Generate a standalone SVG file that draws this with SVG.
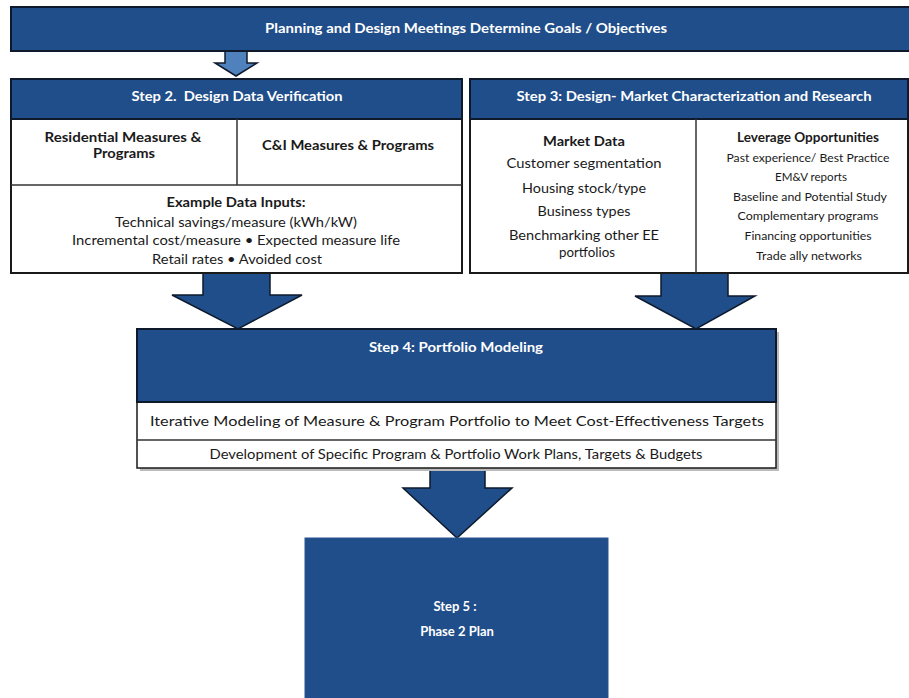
<svg xmlns="http://www.w3.org/2000/svg" width="909" height="698" viewBox="0 0 909 698">
<style>
.dark{fill:#1F4E8A;stroke:#0E1A2C;stroke-width:2}
.white{fill:#FFFFFF;stroke:#1A1A1A;stroke-width:2}
.line{stroke:#333;stroke-width:1.5;fill:none}
.arrow{fill:#1F4E8A;stroke:#0E1A2C;stroke-width:1.5;stroke-linejoin:miter}
.arrowL{fill:#4F81BD;stroke:#0E1A2C;stroke-width:1.5}
text{font-family:Lato,"Liberation Sans",Arial,sans-serif;text-anchor:middle}
.wh{fill:#FFFFFF;font-weight:bold;font-size:13px}
.bk{fill:#1A1A1A;font-size:14px}
.bkb{fill:#1A1A1A;font-size:14px;font-weight:bold}
.sm{fill:#1A1A1A;font-size:12px}
</style>
<rect width="909" height="698" fill="#FFFFFF"/>
<g id="connectors">
<polygon class="arrowL" points="225,51 247,51 247,63 257,63 236,76 215,63 225,63"/>
<polygon class="arrow" points="203,273 270,273 270,295 302,295 238,329 172,295 203,295"/>
<polygon class="arrow" points="661,273 728,273 728,296 755,296 696,329 635,296 661,296"/>
<polygon class="arrow" points="430,468 485,468 485,488 512,488 457,538 403,488 430,488"/>
</g>
<g id="node-goals">
<rect class="dark" x="11" y="7" width="910" height="44"/>
<text class="wh" x="466" y="33" textLength="402" lengthAdjust="spacingAndGlyphs">Planning and Design Meetings Determine Goals / Objectives</text>
</g>
<g id="node-step2">
<rect class="white" x="11" y="79" width="451" height="194"/>
<rect class="dark" x="11" y="79" width="451" height="40"/>
<line class="line" x1="11" y1="185" x2="462" y2="185"/>
<line class="line" x1="237" y1="119" x2="237" y2="185"/>
<text class="wh" x="237" y="101" textLength="211" lengthAdjust="spacingAndGlyphs" xml:space="preserve">Step 2.  Design Data Verification</text>
<text class="bkb" x="123" y="142" textLength="157" lengthAdjust="spacingAndGlyphs">Residential Measures &amp;</text>
<text class="bkb" x="124" y="158" textLength="62" lengthAdjust="spacingAndGlyphs">Programs</text>
<text class="bkb" x="348" y="150" textLength="172" lengthAdjust="spacingAndGlyphs">C&amp;I Measures &amp; Programs</text>
<text class="bkb" x="236" y="207" textLength="139" lengthAdjust="spacingAndGlyphs">Example Data Inputs:</text>
<text class="bk" x="236" y="227" textLength="242" lengthAdjust="spacingAndGlyphs">Technical savings/measure (kWh/kW)</text>
<text class="bk" x="236" y="245" textLength="328" lengthAdjust="spacingAndGlyphs">Incremental cost/measure • Expected measure life</text>
<text class="bk" x="237" y="264" textLength="170" lengthAdjust="spacingAndGlyphs">Retail rates • Avoided cost</text>
</g>
<g id="node-step3">
<rect class="white" x="470" y="79" width="438" height="194"/>
<rect class="dark" x="470" y="79" width="438" height="40"/>
<line class="line" x1="696" y1="119" x2="696" y2="273"/>
<text class="wh" x="694" y="101" textLength="355" lengthAdjust="spacingAndGlyphs">Step 3: Design- Market Characterization and Research</text>
<text class="bkb" x="584" y="146" textLength="82" lengthAdjust="spacingAndGlyphs">Market Data</text>
<text class="bk" x="584" y="168" textLength="155" lengthAdjust="spacingAndGlyphs">Customer segmentation</text>
<text class="bk" x="584" y="193" textLength="124" lengthAdjust="spacingAndGlyphs">Housing stock/type</text>
<text class="bk" x="584" y="216" textLength="93" lengthAdjust="spacingAndGlyphs">Business types</text>
<text class="bk" x="584" y="240" textLength="150" lengthAdjust="spacingAndGlyphs">Benchmarking other EE</text>
<text class="bk" x="587" y="257" textLength="56" lengthAdjust="spacingAndGlyphs">portfolios</text>
<text class="bkb" x="808" y="142" textLength="142" lengthAdjust="spacingAndGlyphs" style="font-size:13px">Leverage Opportunities</text>
<text class="sm" x="808" y="162" textLength="163" lengthAdjust="spacingAndGlyphs">Past experience/ Best Practice</text>
<text class="sm" x="811" y="181" textLength="72" lengthAdjust="spacingAndGlyphs">EM&amp;V reports</text>
<text class="sm" x="810" y="201" textLength="154" lengthAdjust="spacingAndGlyphs">Baseline and Potential Study</text>
<text class="sm" x="808" y="220" textLength="141" lengthAdjust="spacingAndGlyphs">Complementary programs</text>
<text class="sm" x="808" y="240" textLength="127" lengthAdjust="spacingAndGlyphs">Financing opportunities</text>
<text class="sm" x="809" y="260" textLength="106" lengthAdjust="spacingAndGlyphs">Trade ally networks</text>
</g>
<g id="node-step4">
<rect x="140" y="332" width="639" height="139" fill="#BBBBBB"/>
<rect class="white" x="137" y="329" width="639" height="139" style="stroke-width:1.5"/>
<rect class="dark" x="137" y="329" width="639" height="73"/>
<line class="line" x1="137" y1="440" x2="776" y2="440"/>
<text class="wh" x="456" y="352" textLength="174" lengthAdjust="spacingAndGlyphs">Step 4: Portfolio Modeling</text>
<text class="bk" x="457" y="426" style="font-size:13.5px" textLength="614" lengthAdjust="spacingAndGlyphs">Iterative Modeling of Measure &amp; Program Portfolio to Meet Cost-Effectiveness Targets</text>
<text class="bk" x="456" y="459" style="font-size:13.5px" textLength="493" lengthAdjust="spacingAndGlyphs">Development of Specific Program &amp; Portfolio Work Plans, Targets &amp; Budgets</text>
</g>
<g id="node-step5">
<rect x="305" y="538" width="303" height="170" fill="#1F4E8A" stroke="#2A5590" stroke-width="1"/>
<text class="wh" x="455" y="611">Step 5 :</text>
<text class="wh" x="457" y="636">Phase 2 Plan</text>
</g>
</svg>
